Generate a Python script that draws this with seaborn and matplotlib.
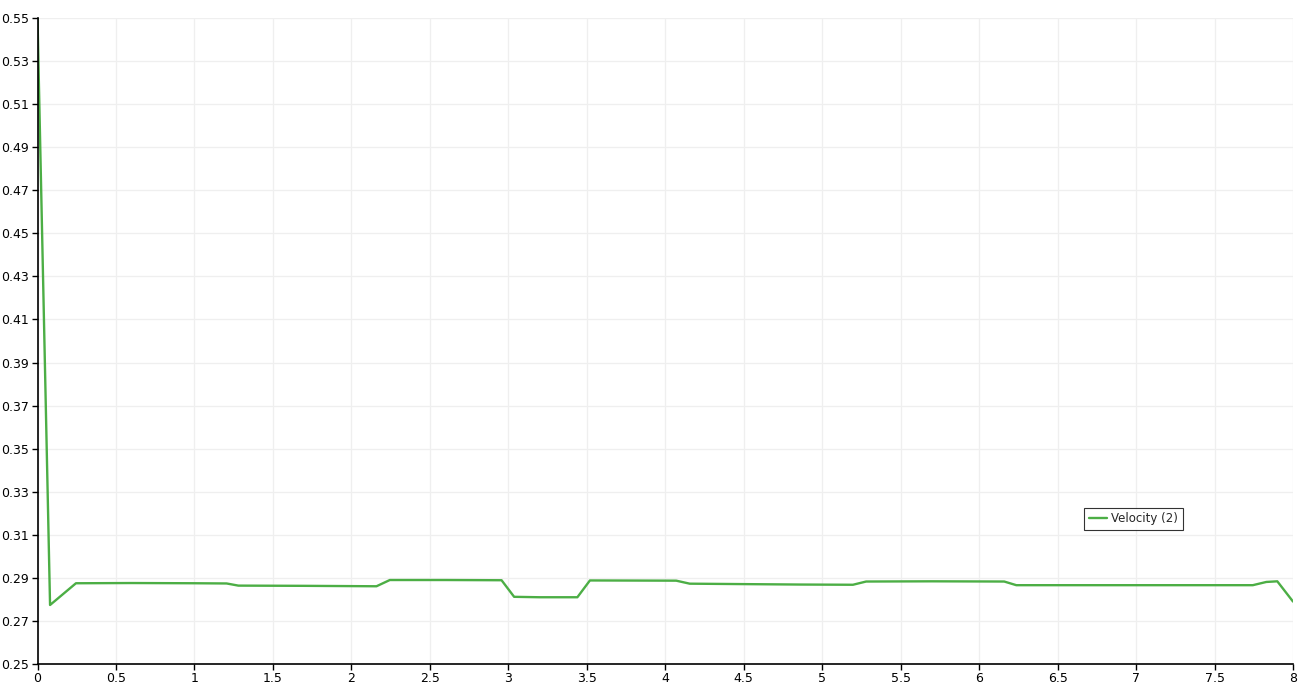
import matplotlib
matplotlib.use("Agg")
import matplotlib.pyplot as plt
import seaborn as sns
import pandas as pd
import numpy as np

# Data
time = [0.0, 0.08, 0.245, 0.6, 1.0, 1.205, 1.28, 1.7, 2.16, 2.245,
        2.6, 2.957, 3.037, 3.2, 3.44, 3.52, 4.07, 4.156, 4.5, 4.857,
        5.196, 5.28, 5.7, 6.16, 6.237, 6.8, 7.744, 7.83, 7.90, 8.0]
velocity = [0.55, 0.2774, 0.2875, 0.2876, 0.2875, 0.2874, 0.2864, 0.2863, 0.2861, 0.2890,
            0.2890, 0.2889, 0.2812, 0.2810, 0.2810, 0.2888, 0.2887, 0.2873, 0.2871, 0.2869,
            0.2868, 0.2883, 0.2884, 0.2883, 0.2866, 0.2866, 0.2866, 0.2881, 0.2884, 0.2790]
series_name = "Velocity (2)"
x_ticks = [0, 0.5, 1, 1.5, 2, 2.5, 3, 3.5, 4, 4.5, 5, 5.5, 6, 6.5, 7, 7.5, 8]
x_tick_labels = ["0", "0.5", "1", "1.5", "2", "2.5", "3", "3.5", "4", "4.5", "5",
                 "5.5", "6", "6.5", "7", "7.5", "8"]
y_ticks = [0.25, 0.27, 0.29, 0.31, 0.33, 0.35, 0.37, 0.39, 0.41, 0.43, 0.45,
           0.47, 0.49, 0.51, 0.53, 0.55]

df = pd.DataFrame({"Time": time, "Velocity": velocity, "series": series_name})

sns.set_theme(style="white")
plt.rcParams['font.family'] = ['DejaVu Sans']

fig = plt.figure(figsize=(13.05, 6.86), dpi=100)
ax = fig.add_axes([37.5 / 1305, 22 / 686, 1255.5 / 1305, 646 / 686])

sns.lineplot(data=df, x="Time", y="Velocity", hue="series",
             palette=["#4cae45"], linewidth=1.7, ax=ax)

ax.set_xlim(0, 8)
ax.set_ylim(0.25, 0.55)
ax.set_xticks(x_ticks)
ax.set_xticklabels(x_tick_labels)
ax.set_yticks(y_ticks)
ax.set_yticklabels([f"{v:.2f}" for v in y_ticks])
ax.set_xlabel("")
ax.set_ylabel("")
ax.grid(True, color="#efefef", linewidth=0.9)
ax.set_axisbelow(True)
for s in ["top", "right"]:
    ax.spines[s].set_visible(False)
for s in ["left", "bottom"]:
    ax.spines[s].set_color("black")
    ax.spines[s].set_linewidth(1.2)
ax.tick_params(axis="both", which="major", length=4, width=1, color="black",
               labelsize=9, labelcolor="black", direction="out", pad=2,
               left=True, bottom=True)

leg = ax.legend(loc="center", bbox_to_anchor=(0.873, 0.2245), frameon=True,
                fancybox=False, fontsize=8.5, handlelength=1.5,
                borderpad=0.4, handletextpad=0.4)
leg.get_frame().set_edgecolor("black")
leg.get_frame().set_linewidth(0.8)

fig.savefig("out.png", dpi=100)
